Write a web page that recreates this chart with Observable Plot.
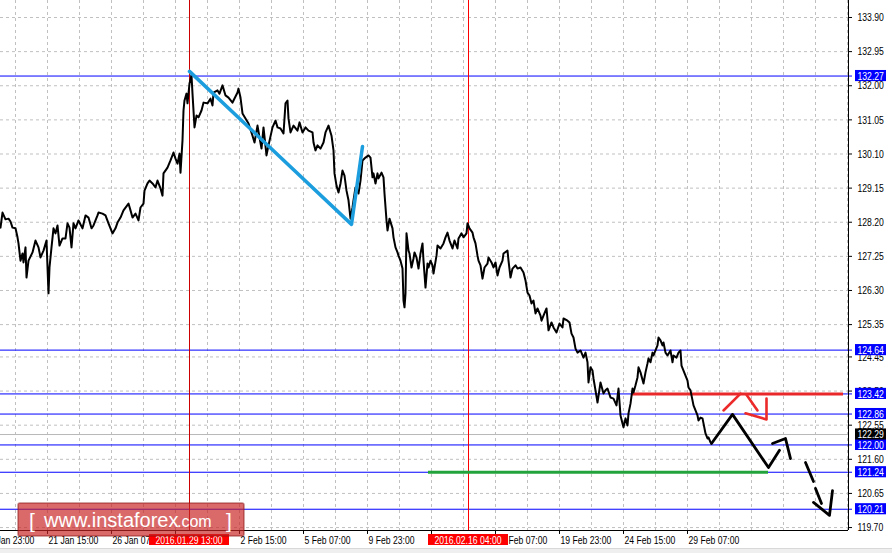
<!DOCTYPE html>
<html><head><meta charset="utf-8">
<script src="https://cdn.jsdelivr.net/npm/d3@7"></script>
<script src="https://cdn.jsdelivr.net/npm/@observablehq/plot@0.6"></script>
<style>
html,body{margin:0;padding:0;background:#fff;}
#chart{position:relative;width:892px;height:553px;overflow:hidden;background:#fff;}
</style></head><body><div id="chart"></div>
<script>
// ---- data (bar index = hourly bar, price) ----
const priceSeries = [[0,128.05],[2,128.47],[5,128.28],[8,128.30],[10,128.22],[12,128.05],[15,128.03],[17,127.78],[18,127.61],[20,127.13],[22,127.33],[23,127.08],[25,127.50],[26,126.66],[28,127.13],[32,127.36],[35,127.69],[38,127.50],[40,127.22],[43,127.41],[46,127.69],[48,126.22],[49,126.94],[51,127.50],[53,128.03],[55,127.89],[57,128.11],[59,127.55],[62,127.75],[65,127.75],[67,128.17],[69,128.05],[71,127.50],[73,128.17],[75,128.03],[78,128.25],[82,128.03],[85,128.39],[88,128.33],[91,128.03],[93,128.11],[97,128.39],[98,128.47],[102,128.44],[105,128.39],[108,128.17],[112,127.89],[115,128.03],[117,128.19],[120,128.33],[123,128.53],[128,128.72],[130,128.53],[132,128.33],[135,128.44],[138,128.25],[140,128.61],[143,128.72],[144,129.08],[147,129.28],[149,129.36],[152,129.28],[155,129.17],[157,129.36],[160,129.14],[162,128.94],[163,129.56],[167,129.72],[170,129.92],[173,130.14],[175,129.97],[177,129.83],[179,130.11],[180,129.58],[182,130.48],[183,131.31],[184,131.59],[186,131.78],[187,131.51],[189,132.06],[191,132.29],[192,131.78],[194,130.84],[196,131.17],[198,131.12],[201,131.31],[203,131.53],[207,131.51],[210,131.64],[212,131.45],[213,131.81],[217,131.87],[219,131.78],[222,132.01],[225,131.73],[228,131.67],[232,131.53],[233,131.59],[237,131.81],[238,131.92],[240,131.67],[242,131.23],[245,131.09],[248,130.95],[252,130.61],[254,130.42],[257,130.89],[259,130.56],[261,130.25],[263,130.84],[266,130.06],[268,130.34],[272,130.84],[275,131.03],[277,130.84],[280,130.81],[283,130.67],[285,131.51],[287,131.59],[288,131.09],[290,130.70],[293,130.89],[297,130.75],[299,130.98],[302,130.70],[305,130.84],[308,130.75],[312,130.70],[313,130.42],[315,130.20],[317,130.34],[320,130.25],[323,130.42],[325,130.70],[328,130.89],[331,130.61],[333,130.20],[334,129.56],[336,129.22],[338,129.03],[340,129.28],[342,129.64],[344,129.50],[346,129.08],[348,128.81],[350,128.30],[352,128.61],[353,128.81],[355,129.17],[358,129.00],[360,129.36],[362,129.92],[365,130.00],[368,130.06],[370,130.00],[372,129.45],[373,129.56],[375,129.28],[377,129.56],[378,129.42],[381,129.58],[383,129.45],[384,129.00],[386,128.25],[387,127.97],[389,128.30],[392,128.03],[393,127.78],[395,127.50],[397,127.36],[398,127.27],[400,127.13],[402,126.91],[403,126.02],[404,125.83],[405,126.22],[406,127.89],[408,127.41],[409,127.33],[411,126.94],[413,127.19],[414,127.36],[416,127.22],[418,126.91],[420,127.33],[422,127.61],[423,127.13],[425,126.38],[427,127.05],[428,126.94],[430,127.13],[432,127.00],[433,126.77],[436,127.27],[437,127.55],[440,127.47],[443,127.61],[445,127.78],[447,127.91],[449,127.69],[452,127.47],[454,127.69],[457,127.47],[458,127.75],[461,127.89],[463,127.78],[466,127.89],[467,128.17],[469,128.03],[472,127.91],[473,127.78],[475,127.61],[477,127.27],[478,127.13],[480,127.00],[482,126.63],[484,126.94],[487,127.05],[488,127.22],[491,127.08],[493,126.94],[495,127.08],[497,126.72],[499,126.94],[502,127.13],[503,127.33],[507,127.41],[508,127.13],[510,126.66],[512,126.91],[515,127.00],[517,126.91],[520,126.94],[523,126.80],[525,126.58],[527,126.24],[529,126.16],[531,125.94],[533,126.02],[535,125.66],[537,125.80],[540,125.60],[541,125.46],[543,125.60],[546,125.80],[548,125.19],[551,125.41],[553,125.27],[556,125.13],[559,125.38],[562,125.27],[563,125.52],[567,125.46],[569,125.41],[571,125.10],[573,124.99],[575,124.68],[577,124.57],[580,124.63],[583,124.43],[585,124.57],[587,124.30],[588,123.74],[590,124.16],[592,124.07],[593,123.85],[595,123.52],[597,123.18],[600,123.74],[603,123.43],[605,123.52],[607,123.57],[610,123.32],[613,123.29],[616,123.10],[618,123.57],[620,122.82],[622,122.60],[623,122.49],[625,122.74],[627,122.54],[628,122.88],[630,123.15],[632,123.57],[633,123.46],[635,123.66],[637,123.88],[638,124.16],[640,124.02],[643,123.71],[645,124.02],[647,124.27],[648,124.41],[650,124.30],[652,124.57],[653,124.49],[655,124.63],[657,124.77],[658,124.99],[660,124.91],[662,124.77],[663,124.85],[665,124.57],[667,124.49],[670,124.63],[672,124.30],[673,124.49],[676,124.43],[678,124.57],[680,124.63],[681,124.21],[683,124.07],[685,123.93],[687,123.79],[688,123.60],[690,123.52],[692,123.24],[693,123.10],[695,122.96],[697,122.82],[698,122.68],[700,122.76],[702,122.74],[703,122.60],[705,122.32],[707,122.18],[708,122.21],[710,122.07]];

const yTicks = [133.90,132.95,132.00,131.05,130.10,129.15,128.20,127.25,126.30,125.35,124.45,123.50,122.55,121.60,120.65,119.70];
const xTickPos = [-17,47,111,175,239,303,367,431,495,559,623,687];
const xTickLabels = ["18 Jan 23:00","21 Jan 15:00","26 Jan 07:00","","2 Feb 15:00","5 Feb 07:00","9 Feb 23:00","","17 Feb 07:00","19 Feb 23:00","24 Feb 15:00","29 Feb 07:00"];
const levelValues = [132.27,124.64,123.42,122.86,122.00,121.24,120.21];
const currentPrice = 122.29;
const markerBars = [189,468];
const markerLabels = ["2016.01.29 13:00","2016.02.16 04:00"];
const markerColors = ["#cc0000","#ff0000"];
const trendBars = [189,351,362];
const trendPrices = [132.40,128.14,130.31];
const supportLevel = {price:121.24, from:428, to:768};
const resistLevel = {price:123.42, from:632, to:843};
const forecastBlack = [
  [[711,122.04],[732,122.85],[768,121.37],[779,121.85]],
  [[772,122.04],[785,122.18],[790,121.62]],
  [[805,121.51],[813,120.98]],
  [[815,120.79],[821,120.37]],
  [[813,120.40],[829,120.04],[832,120.73]]
];
const forecastRed = [
  [[723,122.96],[740,123.43]],
  [[746,123.40],[757,122.96]],
  [[745,122.88],[766,122.71],[766,123.29]]
];

// ---- chart ----
const yMin = 119.618, yMax = 134.373, xMax = 848;
const FONT = '"Liberation Sans",Arial,sans-serif';
const toRows = (segs) => segs.flatMap((s,i)=>s.map(p=>({seg:i,x:p[0],y:p[1]})));
const priceRows = priceSeries.map(p=>({x:p[0],y:p[1]}));
const trendRows = trendBars.map((b,i)=>({x:b,y:trendPrices[i]}));
const markers = markerBars.map((b,i)=>({x:b,label:markerLabels[i],color:markerColors[i]}));
const xTicks = xTickPos.map((p,i)=>({x:p,label:xTickLabels[i]}));

const chart = Plot.plot({
  width: 892, height: 553,
  marginTop: 0, marginRight: 44, marginBottom: 23, marginLeft: 0,
  x: {type:"linear", domain:[0,xMax], axis:null},
  y: {type:"linear", domain:[yMin,yMax], axis:null},
  style: {background:"#fff", fontFamily: FONT, fontSize:"11.5px", overflow:"visible"},
  marks: [
    Plot.ruleX(d3.range(15, 848, 32), {stroke:"#c0c0c0", strokeDasharray:"3,3"}),
    Plot.ruleY(yTicks, {x1:()=>0, x2:()=>xMax, stroke:"#c0c0c0", strokeDasharray:"3,3"}),
    Plot.ruleY([currentPrice], {x1:()=>0, x2:()=>xMax, stroke:"#b8b8b8"}),
    Plot.ruleY(levelValues, {x1:()=>0, x2:()=>852, stroke:"#0000ff"}),
    Plot.ruleX(markers, {x:"x", stroke:"color"}),
    Plot.ruleY([supportLevel], {y:"price", x1:"from", x2:"to", stroke:"#23a33b", strokeWidth:3}),
    Plot.ruleY([resistLevel], {y:"price", x1:"from", x2:"to", stroke:"#e8282b", strokeWidth:3}),
    Plot.line(priceRows, {x:"x", y:"y", stroke:"#000", strokeWidth:2}),
    Plot.line(trendRows, {x:"x", y:"y", stroke:"#1c9ede", strokeWidth:3.5}),
    Plot.line(toRows(forecastBlack), {x:"x", y:"y", z:"seg", stroke:"#000", strokeWidth:2.8}),
    Plot.line(toRows(forecastRed), {x:"x", y:"y", z:"seg", stroke:"#ec2a2a", strokeWidth:2.6}),
    // axes frame
    Plot.ruleX([xMax], {stroke:"#000"}),
    Plot.ruleY([yMin], {x1:()=>0, x2:()=>xMax, stroke:"#000"}),
    Plot.ruleY(yTicks, {x1:()=>xMax, x2:()=>852, stroke:"#000"}),
    Plot.text(yTicks, {x:()=>xMax, y:d=>d, dx:9, textAnchor:"start", text:d=>d.toFixed(2), fill:"#000"}),
    Plot.ruleX(xTicks, {x:"x", y1:()=>yMin, y2:()=>yMin-0.11, stroke:"#000"}),
    Plot.text(xTicks, {x:"x", y:()=>yMin, dy:10, dx:1, textAnchor:"start", text:"label", fill:"#000"}),
    // level price tags
    Plot.rect(levelValues, {x1:()=>855, x2:()=>886, y1:d=>d-0.155, y2:d=>d+0.155, fill:"#0000ff"}),
    Plot.text(levelValues, {x:()=>855, y:d=>d, dx:2, textAnchor:"start", text:d=>d.toFixed(2), fill:"#fff"}),
    Plot.rect([currentPrice], {x1:()=>855, x2:()=>886, y1:d=>d-0.155, y2:d=>d+0.155, fill:"#000"}),
    Plot.text([currentPrice], {x:()=>855, y:d=>d, dx:2, textAnchor:"start", text:d=>d.toFixed(2), fill:"#fff"})
  ]
});
document.getElementById("chart").appendChild(chart);

// ---- overlays: date tags on the time axis ----
const sx = chart.scale("x");
const xs = d3.scaleLinear(sx.domain, sx.range);
const svg = d3.select(chart);
const g = svg.append("g").attr("font-family", FONT).attr("font-size", 11.5);
markers.forEach(m => {
  const cx = xs(m.x);
  g.append("rect").attr("x", cx-40).attr("y", 534).attr("width", 80).attr("height", 11).attr("fill", "#ff0000");
  g.append("text").attr("x", cx).attr("y", 539.5).attr("dy", "0.35em").attr("text-anchor", "middle").attr("fill", "#fff").text(m.label);
});

// narrow the terminal-style labels (condensed look)
svg.selectAll("text").each(function(){
  const L = this.getComputedTextLength();
  if (L > 0) { this.setAttribute("textLength", (L*0.75).toFixed(1)); this.setAttribute("lengthAdjust", "spacingAndGlyphs"); }
});

g.append("rect").attr("x",0).attr("y",548).attr("width",892).attr("height",5).attr("fill","#efefef");
g.append("line").attr("x1",0).attr("x2",892).attr("y1",548.5).attr("y2",548.5).attr("stroke","#d8d8d8");

// ---- watermark ----
const wm = svg.append("g").attr("font-family",'"Liberation Sans","DejaVu Sans",sans-serif')
  .attr("fill","#fff").attr("text-anchor","start");
wm.append("rect").attr("x",18).attr("y",503).attr("width",226).attr("height",33).attr("rx",2)
  .attr("fill","rgba(200,35,35,0.68)").attr("stroke","rgba(140,20,20,0.5)").attr("stroke-width",1.5);
wm.append("text").attr("x",29).attr("y",528).attr("font-size",21).text("[");
wm.append("text").attr("x",44).attr("y",527).attr("font-size",20).text("www.instaforex");
wm.append("text").attr("x",177).attr("y",527).attr("font-size",16).text(".com");
wm.append("text").attr("x",226).attr("y",528).attr("font-size",21).text("]");
</script></body></html>
